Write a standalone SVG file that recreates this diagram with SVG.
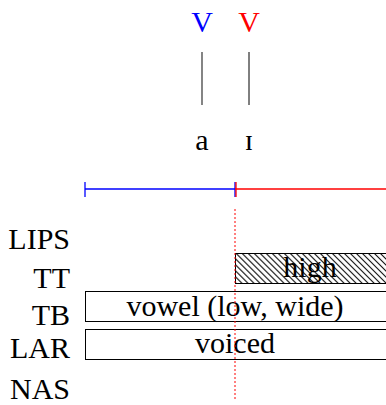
<svg xmlns="http://www.w3.org/2000/svg" width="386" height="405" viewBox="0 0 386 405">
<style>
text{font-family:"Liberation Serif","Times New Roman",serif;fill:#000;font-size:30px}
.lbl{text-anchor:end}
.box{fill:#fff;stroke:#000;stroke-width:1}
.bt{text-anchor:middle}
</style>
<defs>
<pattern id="hatch" patternUnits="userSpaceOnUse" width="4.25" height="4.25" patternTransform="rotate(-45)">
<line x1="0.5" y1="0" x2="0.5" y2="4.25" stroke="#000" stroke-width="1.1"/>
</pattern>
</defs>
<g id="tier-top">
<text x="202" y="32" text-anchor="middle" style="fill:#0000ff">V</text>
<text x="249" y="32" text-anchor="middle" style="fill:#ff0000">V</text>
<line x1="202" y1="52" x2="202" y2="105" stroke="#333" stroke-width="1.2"/>
<line x1="249" y1="52" x2="249" y2="105" stroke="#000"/>
<text x="202" y="150" text-anchor="middle">a</text>
<text x="249" y="150" text-anchor="middle">ɪ</text>
</g>
<g id="timeline">
<line x1="85" y1="189" x2="235" y2="189" stroke="#0000ff" stroke-width="1.3"/>
<line x1="85" y1="182" x2="85" y2="197" stroke="#0000ff" stroke-width="1.3"/>
<line x1="235" y1="182" x2="235" y2="197" stroke="#0000ff" stroke-width="1.3"/>
<line x1="235" y1="189" x2="386" y2="189" stroke="#ff0000" stroke-width="1.3"/>
<line x1="236" y1="182" x2="236" y2="197" stroke="#ff0000" stroke-width="1.3"/>
</g>
<g id="labels">
<text class="lbl" x="70" y="249">LIPS</text>
<text class="lbl" x="70" y="288">TT</text>
<text class="lbl" x="70" y="325">TB</text>
<text class="lbl" x="70" y="358">LAR</text>
<text class="lbl" x="70" y="399">NAS</text>
</g>
<g id="tt-high">
<rect x="235.5" y="253.5" width="160" height="30" fill="url(#hatch)" stroke="#000"/>
<text class="bt" x="310" y="277">high</text>
</g>
<g id="tb-vowel">
<rect class="box" x="85.5" y="291.5" width="310" height="30"/>
<text class="bt" x="235" y="316">vowel (low, wide)</text>
</g>
<g id="lar-voiced">
<rect class="box" x="85.5" y="329.5" width="310" height="30"/>
<text class="bt" x="235" y="353">voiced</text>
</g>
<g id="connectors">
<line x1="235" y1="209" x2="235" y2="399" stroke="#ff0000" stroke-width="1" stroke-dasharray="2,2"/>
</g>
</svg>
